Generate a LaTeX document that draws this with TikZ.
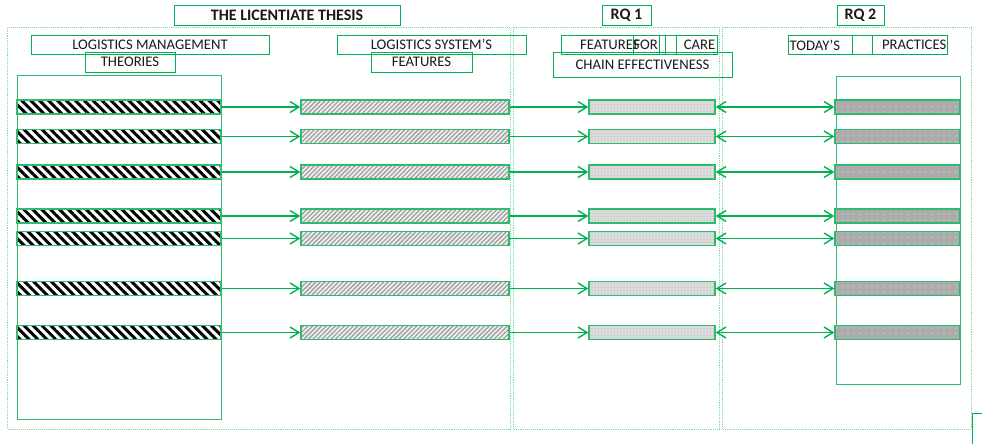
\documentclass[tikz,border=0pt]{standalone}
\usepackage{fontspec}
\setmainfont{Carlito}
\usetikzlibrary{patterns,patterns.meta,arrows.meta}
\definecolor{gr}{HTML}{00B050}
\definecolor{grl}{HTML}{2EBB6E}
\definecolor{grd}{HTML}{7ED6A4}
\tikzset{
  lbl/.style={draw=gr, line width=0.8pt, inner sep=0pt, font=\fontsize{14.67}{16}\selectfont, text=black!90},
  hdr/.style={lbl, minimum height=20pt, font=\fontsize{16}{18}\selectfont\bfseries},
  txt/.style={inner sep=0pt, font=\fontsize{14.67}{16}\selectfont, text=black!90},
  frame/.style={draw=grd, densely dotted, line width=0.9pt},
  bigbox/.style={draw=grl, line width=0.8pt, inner sep=0pt},
  barbase/.style={draw=grl, line width=1.4pt, inner sep=0pt, minimum height=14pt},
  barA/.style={barbase, minimum width=204pt, preaction={fill=white}, preaction={pattern={Lines[angle=-45,distance=6.3pt,line width=3pt]}, pattern color=black}},
  barB/.style={barbase, minimum width=208pt, preaction={fill=gray!12}, preaction={pattern={Lines[angle=45,distance=3.2pt,line width=1.3pt]}, pattern color=gray!75}},
  barC/.style={barbase, minimum width=126pt, preaction={fill=gray!28}, preaction={pattern={Dots[radius=0.6pt,distance=3.2pt]}, pattern color=gray!55}},
  barD/.style={barbase, minimum width=125pt, preaction={fill=gray!65}, preaction={pattern={Dots[radius=0.7pt,distance=6pt,xshift=2pt,yshift=2pt]}, pattern color=white!85!gray}},
  arr/.style={draw=gr, line width=1.4pt, -{Straight Barb[length=9pt,width=11pt]}},
  darr/.style={draw=gr, line width=1.4pt, {Straight Barb[length=9pt,width=11pt]}-{Straight Barb[length=9pt,width=11pt]}},
}
\begin{document}
\begin{tikzpicture}[x=1pt,y=-1pt]
\useasboundingbox (0,0) rectangle (982,444);
% dotted frames
\draw[frame] (7,27) rectangle (510,429);
\draw[frame] (513,27) rectangle (719,429);
\draw[frame] (722,27) rectangle (971,429);
% header boxes
\node[hdr, minimum width=226pt] (title) at (287,15) {THE LICENTIATE THESIS};
\node[hdr, minimum width=49pt] (rq1) at (626.5,15) {RQ 1};
\node[hdr, minimum width=47pt] (rq2) at (860.5,15) {RQ 2};
\node[lbl, minimum width=238pt, minimum height=19pt] (lm) at (150,44.5) {LOGISTICS MANAGEMENT};
\node[lbl, minimum width=90pt, minimum height=20pt] (th) at (130,62) {THEORIES};
\node[lbl, minimum width=189pt, minimum height=19pt] (lss) at (431.5,44.5) {LOGISTICS SYSTEM’S};
\node[lbl, minimum width=101pt, minimum height=20pt] (feat) at (421.5,62) {FEATURES};
% RQ1 label row
\node[lbl, minimum width=156pt, minimum height=19pt] (r1row) at (639,44.5) {};
\node[lbl, minimum width=26pt, minimum height=19pt] (r1for) at (646,44.5) {};
\node[lbl, minimum width=11pt, minimum height=19pt] (r1gap) at (670.5,44.5) {};
\node[txt, anchor=west] (t1) at (580,45) {FEATURES};
\node[txt, anchor=east] (t2) at (658,45) {FOR};
\node[txt, anchor=east] (t3) at (715.5,45) {CARE};
\node[lbl, minimum width=179pt, minimum height=25pt] (chain) at (642.5,64.5) {CHAIN EFFECTIVENESS};
% RQ2 label row
\node[lbl, minimum width=159pt, minimum height=19pt] (r2row) at (867.5,44.5) {};
\node[lbl, minimum width=20pt, minimum height=19pt] (r2gap) at (862,44.5) {};
\node[txt, anchor=west] (t4) at (789.5,45) {TODAY’S};
\node[txt, anchor=east] (t5) at (946.5,45) {PRACTICES};
% big boxes
\node[bigbox, minimum width=204pt, minimum height=344pt] (lmbox) at (119,247) {};
\node[bigbox, minimum width=124pt, minimum height=308pt] (rq2box) at (898,230) {};
% small box bottom right
\node[bigbox, draw=gr, minimum width=14pt, minimum height=40pt, anchor=north west] (corner) at (972,413) {};
% bars and arrows
\foreach \i/\y in {1/107,2/136.5,3/172,4/216,5/238.5,6/288.5,7/332.5}{
  \node[barA] (a\i) at (119,\y) {};
  \node[barB] (b\i) at (405,\y) {};
  \node[barC] (c\i) at (652,\y) {};
  \node[barD] (d\i) at (897.5,\y) {};
  \draw[arr] (a\i.east) -- (b\i.west);
  \draw[arr] (b\i.east) -- (c\i.west);
  \draw[darr] (c\i.east) -- (d\i.west);
}
\end{tikzpicture}
\end{document}
